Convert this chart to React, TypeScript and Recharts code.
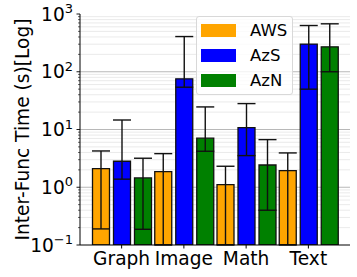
import React from 'react'
import {
  BarChart, Bar, XAxis, YAxis, ErrorBar, CartesianGrid,
} from 'recharts'

const categories = ['Graph', 'Image', 'Math', 'Text']

const awsMean = [2.1, 1.86, 1.11, 1.94]
const awsLow = [0.19, 0.1, 0.1, 0.1]
const awsHigh = [4.25, 3.82, 2.31, 3.93]

const azsMean = [2.82, 75.3, 10.8, 301]
const azsLow = [1.38, 54, 3.53, 49.9]
const azsHigh = [14.6, 407, 28.1, 632]

const aznMean = [1.45, 7.07, 2.43, 270]
const aznLow = [0.187, 4.2, 0.4, 100]
const aznHigh = [3.18, 24.6, 6.68, 676]

const majorTicks = [0.1, 1, 10, 100, 1000]
const minorTicks = [0.1, 1, 10, 100].flatMap((d) => [2, 3, 4, 5, 6, 7, 8, 9].map((m) => +(m * d).toPrecision(3)))
// group boundaries on the helper axis (0..4 = one unit per category)
const groupEdges = [1, 2, 3]

const series = [
  { key: 'aws', name: 'AWS', color: '#ffa500', mean: awsMean, low: awsLow, high: awsHigh },
  { key: 'azs', name: 'AzS', color: '#0000ff', mean: azsMean, low: azsLow, high: azsHigh },
  { key: 'azn', name: 'AzN', color: '#008000', mean: aznMean, low: aznLow, high: aznHigh },
]

const data = categories.map((cat, i) => {
  const row: Record<string, any> = { cat }
  series.forEach((s) => {
    row[s.key] = s.mean[i]
    row[s.key + 'Err'] = [s.mean[i] - s.low[i], s.high[i] - s.mean[i]]
  })
  return row
})

const FONT = '"DejaVu Sans", sans-serif'
const exps: Record<string, string> = { '0.1': '\u22121', '1': '0', '10': '1', '100': '2', '1000': '3' }

function YTick({ x, y, payload }: any) {
  const v = payload.value
  const major = majorTicks.includes(v)
  return (
    <g>
      <line x1={x - (major ? 3.5 : 2)} x2={x} y1={y} y2={y} stroke="#000" strokeWidth={major ? 0.9 : 0.6} />
      {major && (
        <text x={x - 7} y={y + 6.5} textAnchor="end" fontSize={18.6} fontFamily={FONT} fill="#000">
          10<tspan fontSize={13} dy={-7.5}>{exps[String(v)]}</tspan>
        </text>
      )}
    </g>
  )
}

export default function App() {
  return (
    <div style={{ position: 'fixed', left: 0, top: 0, width: 357, height: 277, background: '#fff' }}>
      <BarChart
        width={357}
        height={277}
        data={data}
        margin={{ top: 14, right: 7, bottom: 0, left: 0 }}
        barCategoryGap={0}
        barGap={4}
        barSize={17}
      >
        <CartesianGrid vertical={false} horizontalValues={minorTicks} stroke="#e4e4e4" strokeWidth={0.8} />
        <CartesianGrid vertical={false} horizontalValues={majorTicks.slice(1, -1)} stroke="#b0b0b0" strokeWidth={0.9} />
        <CartesianGrid horizontal={false} xAxisId="top" verticalValues={groupEdges} stroke="#b0b0b0" strokeWidth={0.9} />
        <XAxis
          dataKey="cat"
          padding={{ left: 10.5, right: 10.5 }}
          height={32}
          tickSize={3.5}
          tickMargin={3}
          stroke="#000"
          tick={{ fontSize: 18.6, fontFamily: FONT, fill: '#000' }}
        />
        <XAxis
          xAxisId="top"
          orientation="top"
          type="number"
          domain={[0, 4]}
          padding={{ left: 10.5, right: 10.5 }}
          height={0}
          tick={false}
          tickLine={false}
          stroke="#000"
        />
        <YAxis
          scale="log"
          domain={[0.1, 1000]}
          allowDataOverflow
          ticks={[...majorTicks, ...minorTicks]}
          interval={0}
          width={80}
          tickSize={0}
          tickMargin={0}
          tickLine={false}
          tick={<YTick />}
          stroke="#000"
          label={{
            value: 'Inter-Func Time (s)[Log]', angle: -90, position: 'center', dx: -18,
            style: { fontSize: 18.6, fontFamily: FONT, fill: '#000', textAnchor: 'middle' },
          }}
        />
        <YAxis yAxisId="right" orientation="right" width={0} tick={false} tickLine={false} stroke="#000" />
        {series.map((s) => (
          <Bar key={s.key} dataKey={s.key} name={s.name} fill={s.color} stroke="#111" strokeWidth={1.3} isAnimationActive={false}>
            <ErrorBar dataKey={s.key + 'Err'} width={9} stroke="#111" strokeWidth={1.4} direction="y" />
          </Bar>
        ))}
      </BarChart>
      <div
        style={{
          position: 'absolute', left: 196, top: 16, width: 95, height: 77,
          border: '1px solid #d8d8d8', borderRadius: 3, background: 'rgba(255,255,255,0.8)',
          fontFamily: FONT, fontSize: 16.5, color: '#000',
        }}
      >
        {series.map((s, i) => (
          <div key={s.key} style={{ position: 'absolute', left: 4, top: 7 + i * 25, height: 13, display: 'flex', alignItems: 'center' }}>
            <div style={{ width: 35, height: 12.5, background: s.color }} />
            <span style={{ marginLeft: 14, lineHeight: '13px' }}>{s.name}</span>
          </div>
        ))}
      </div>
    </div>
  )
}
